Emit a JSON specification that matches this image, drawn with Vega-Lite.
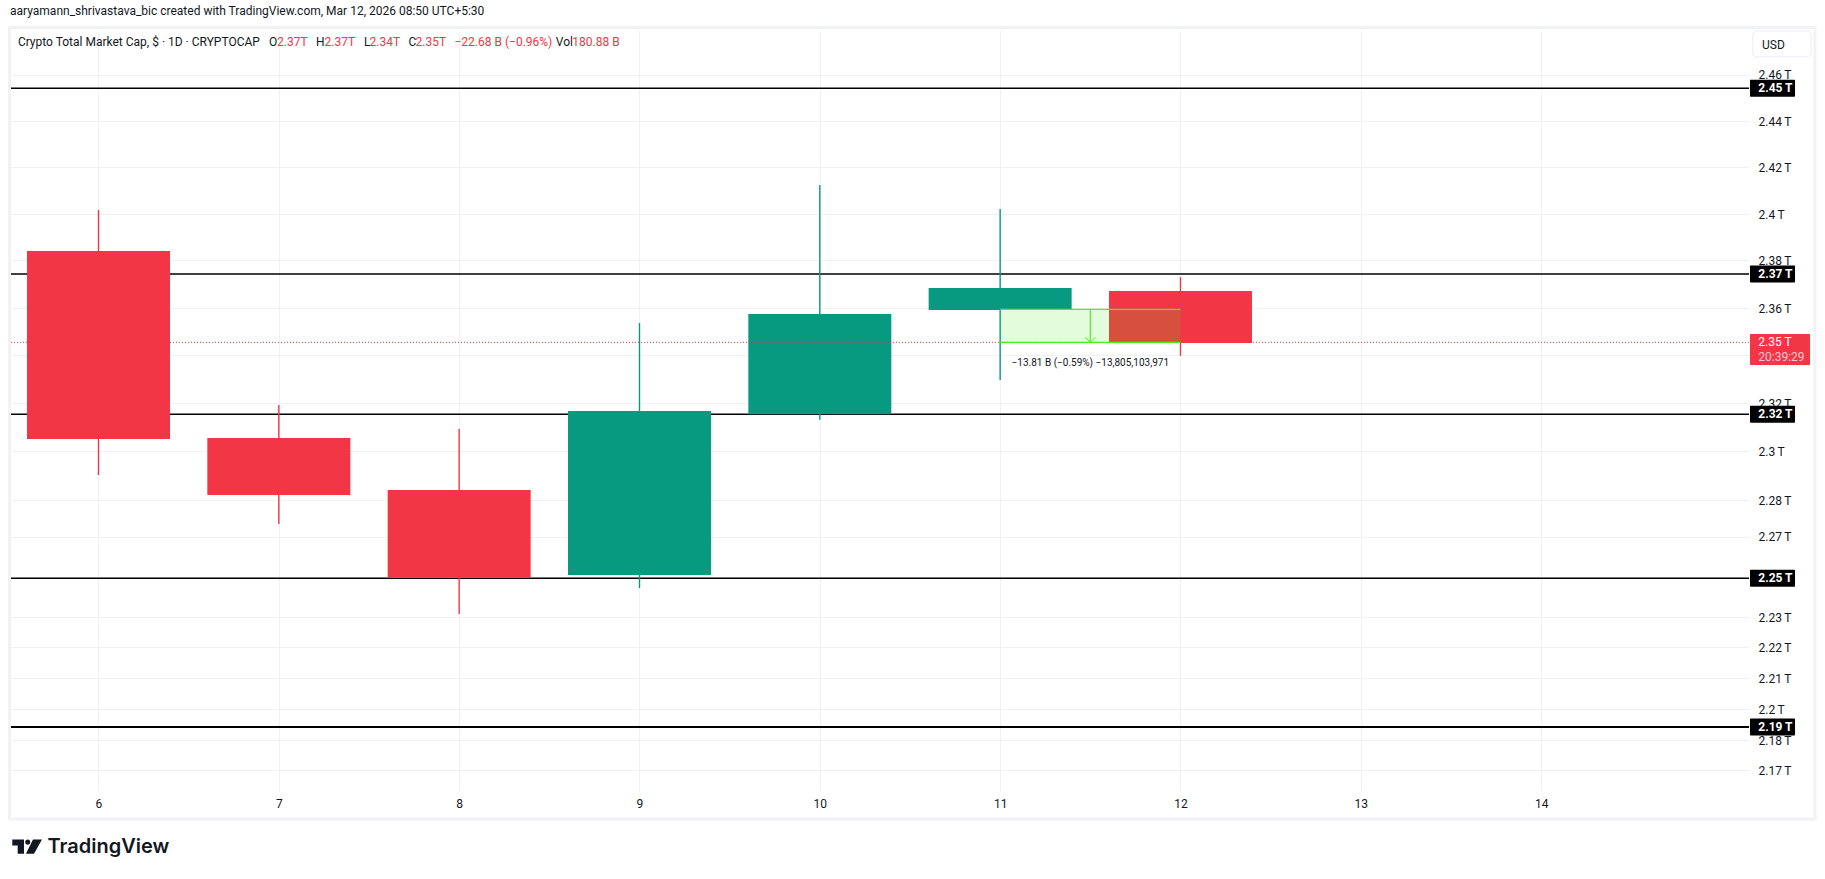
{
  "$schema": "https://vega.github.io/schema/vega-lite/v6.json",
  "width": 1738,
  "height": 761,
  "autosize": "none",
  "padding": {"left": 11, "top": 30, "right": 76, "bottom": 88},
  "background": "#ffffff",
  "config": {
    "view": {"stroke": null},
    "font": "Roboto",
    "text": {"font": "Roboto", "color": "#131722"}
  },
  "title": {
    "text": "aaryamann_shrivastava_bic created with TradingView.com, Mar 12, 2026 08:50 UTC+5:30",
    "anchor": "start",
    "frame": "group",
    "offset": 8,
    "dx": -1,
    "font": "Roboto",
    "fontSize": 12,
    "fontWeight": "normal",
    "color": "#131722"
  },
  "datasets": {
    "candles": [
      {"day": 6, "open": 2.38416, "high": 2.40172, "low": 2.29046, "close": 2.30528},
      {"day": 7, "open": 2.30569, "high": 2.31933, "low": 2.27044, "close": 2.28226},
      {"day": 8, "open": 2.28432, "high": 2.30939, "low": 2.23417, "close": 2.24902},
      {"day": 9, "open": 2.24983, "high": 2.35363, "low": 2.2446, "close": 2.31684},
      {"day": 10, "open": 2.31547, "high": 2.41249, "low": 2.31324, "close": 2.35742},
      {"day": 11, "open": 2.35911, "high": 2.40215, "low": 2.32973, "close": 2.36842},
      {"day": 12, "open": 2.36715, "high": 2.37309, "low": 2.33988, "close": 2.34521}
    ],
    "levels": [
      {"day": 5.5148, "end": 15.1527, "price": 2.4546, "width": 1.5},
      {"day": 5.5148, "end": 15.1527, "price": 2.3744, "width": 1.5},
      {"day": 5.5148, "end": 15.1527, "price": 2.3155, "width": 1.5},
      {"day": 5.5148, "end": 15.1527, "price": 2.2485, "width": 1.5},
      {"day": 5.5148, "end": 15.1527, "price": 2.1895, "width": 2}
    ],
    "tags": [
      {"day": 15.1583, "end": 15.4079, "text_day": 15.2043, "price": 2.4546, "label": "2.45 T"},
      {"day": 15.1583, "end": 15.4079, "text_day": 15.2043, "price": 2.3744, "label": "2.37 T"},
      {"day": 15.1583, "end": 15.4079, "text_day": 15.2043, "price": 2.3155, "label": "2.32 T"},
      {"day": 15.1583, "end": 15.4079, "text_day": 15.2043, "price": 2.2485, "label": "2.25 T"},
      {"day": 15.1583, "end": 15.4079, "text_day": 15.2043, "price": 2.1895, "label": "2.19 T"}
    ],
    "headline": [
      {"day": 5.553, "price": 2.4749, "label": "Crypto Total Market Cap, $ · 1D · CRYPTOCAP", "tone": "ink"},
      {"day": 6.9455, "price": 2.4749, "label": "O", "tone": "ink"},
      {"day": 6.9899, "price": 2.4749, "label": "2.37T", "tone": "down"},
      {"day": 7.2061, "price": 2.4749, "label": "H", "tone": "ink"},
      {"day": 7.2533, "price": 2.4749, "label": "2.37T", "tone": "down"},
      {"day": 7.4723, "price": 2.4749, "label": "L", "tone": "ink"},
      {"day": 7.5033, "price": 2.4749, "label": "2.34T", "tone": "down"},
      {"day": 7.7191, "price": 2.4749, "label": "C", "tone": "ink"},
      {"day": 7.7585, "price": 2.4749, "label": "2.35T", "tone": "down"},
      {"day": 7.9742, "price": 2.4749, "label": "−22.68 B (−0.96%)", "tone": "down"},
      {"day": 8.5359, "price": 2.4749, "label": "Vol", "tone": "ink"},
      {"day": 8.6274, "price": 2.4749, "label": "180.88 B", "tone": "down"},
      {"day": 15.2043, "price": 2.3455, "label": "2.35 T", "tone": "white"},
      {"day": 15.2043, "price": 2.33936, "label": "20:39:29", "tone": "timer"}
    ]
  },
  "encoding": {
    "x": {
      "field": "day",
      "type": "quantitative",
      "scale": {"domain": [5.5148, 15.1527], "nice": false, "zero": false, "padding": 0},
      "axis": {
        "title": null,
        "values": [6, 7, 8, 9, 10, 11, 12, 13, 14],
        "format": "d",
        "grid": true,
        "gridColor": "#f0f1f4",
        "gridWidth": 1,
        "domain": false,
        "ticks": false,
        "labelPadding": 7,
        "labelFontSize": 12,
        "labelColor": "#131722",
        "labelOverlap": false
      }
    },
    "y": {
      "field": "price",
      "type": "quantitative",
      "scale": {"type": "log", "domain": [2.16452, 2.48036], "nice": false, "zero": false, "padding": 0},
      "axis": {
        "title": null,
        "orient": "right",
        "values": [2.4605, 2.4402, 2.4201, 2.4, 2.3803, 2.3598, 2.34, 2.32, 2.3003, 2.2802, 2.2652, 2.249, 2.2328, 2.2209, 2.2086, 2.1964, 2.1843, 2.1725],
        "labelExpr": "format(datum.value, '.2~f') + '\u2009T'",
        "grid": true,
        "gridColor": "#f0f1f4",
        "gridWidth": 1,
        "domain": false,
        "ticks": false,
        "labelPadding": 9,
        "labelFontSize": 12,
        "labelColor": "#131722",
        "labelOverlap": false
      }
    }
  },
  "layer": [
    {
      "data": {"values": [{"day": 5.5065, "end": 15.5187, "price": 2.48146, "floor": 2.15369}]},
      "mark": {"type": "rect", "filled": false, "stroke": "#f1f2f5", "strokeWidth": 3},
      "encoding": {
        "x2": {"field": "end"},
        "y2": {"field": "floor"}
      }
    },
    {
      "data": {"name": "levels"},
      "mark": {"type": "rule", "color": "#000000"},
      "encoding": {
        "x2": {"field": "end"},
        "strokeWidth": {"field": "width", "type": "quantitative", "scale": null}
      }
    },
    {
      "data": {"name": "candles"},
      "mark": {"type": "rule", "strokeWidth": 1.4},
      "encoding": {
        "y": {"field": "high", "type": "quantitative"},
        "y2": {"field": "low"},
        "color": {"condition": {"test": "datum.close >= datum.open", "value": "#089981"}, "value": "#f23645"}
      }
    },
    {
      "data": {"name": "candles"},
      "mark": {"type": "bar", "orient": "vertical", "size": 143},
      "encoding": {
        "y": {"field": "open", "type": "quantitative"},
        "y2": {"field": "close"},
        "color": {"condition": {"test": "datum.close >= datum.open", "value": "#089981"}, "value": "#f23645"}
      }
    },
    {
      "data": {"values": [{"day": 5.5148, "end": 15.1527, "price": 2.3455}]},
      "mark": {"type": "rule", "color": "#f23645", "strokeWidth": 1, "strokeDash": [1, 2]},
      "encoding": {"x2": {"field": "end"}}
    },
    {
      "data": {"values": [{"day": 11, "end": 12, "price": 2.35941, "floor": 2.34551}]},
      "mark": {"type": "rect", "color": "#3eeb16", "opacity": 0.15},
      "encoding": {
        "x2": {"field": "end"},
        "y2": {"field": "floor"}
      }
    },
    {
      "data": {"values": [
        {"day": 11, "end": 12, "price": 2.35941},
        {"day": 11, "end": 12, "price": 2.34551}
      ]},
      "mark": {"type": "rule", "color": "#4cf01f", "strokeWidth": 1.3},
      "encoding": {"x2": {"field": "end"}}
    },
    {
      "data": {"values": [{"day": 11.5, "price": 2.35941, "floor": 2.34551}]},
      "mark": {"type": "rule", "color": "#4cf01f", "strokeWidth": 1.2},
      "encoding": {"y2": {"field": "floor"}}
    },
    {
      "data": {"values": [{"day": 11.5, "price": 2.34551}]},
      "mark": {"type": "point", "shape": "M-1,-1L0,0L1,-1", "size": 100, "filled": false, "stroke": "#4cf01f", "strokeWidth": 1, "opacity": 1}
    },
    {
      "data": {"values": [{"day": 11.5, "price": 2.33695, "label": "−13.81 B (−0.59%) −13,805,103,971"}]},
      "mark": {"type": "text", "align": "center", "baseline": "middle", "fontSize": 10, "color": "#131722"},
      "encoding": {"text": {"field": "label"}}
    },
    {
      "data": {"name": "tags"},
      "mark": {"type": "bar", "orient": "horizontal", "size": 17, "color": "#000000", "cornerRadius": 1},
      "encoding": {"x2": {"field": "end"}}
    },
    {
      "data": {"name": "tags"},
      "mark": {"type": "text", "align": "left", "baseline": "middle", "fontSize": 12, "fontWeight": "bold", "color": "#ffffff"},
      "encoding": {
        "x": {"field": "text_day", "type": "quantitative"},
        "text": {"field": "label"}
      }
    },
    {
      "data": {"values": [{"day": 15.1583, "end": 15.4911, "price": 2.349, "floor": 2.336}]},
      "mark": {"type": "rect", "color": "#f23645", "cornerRadius": 1},
      "encoding": {
        "x2": {"field": "end"},
        "y2": {"field": "floor"}
      }
    },
    {
      "data": {"values": [{"day": 15.1734, "end": 15.4966, "price": 2.47993, "floor": 2.46854}]},
      "mark": {"type": "rect", "filled": false, "stroke": "#f0f3fa", "strokeWidth": 1.5, "cornerRadius": 4},
      "encoding": {
        "x2": {"field": "end"},
        "y2": {"field": "floor"}
      }
    },
    {
      "data": {"values": [{"day": 15.2248, "price": 2.4739, "label": "USD"}]},
      "mark": {"type": "text", "align": "left", "baseline": "middle", "fontSize": 12, "color": "#131722"},
      "encoding": {"text": {"field": "label"}}
    },
    {
      "data": {"name": "headline"},
      "mark": {"type": "text", "align": "left", "baseline": "middle", "fontSize": 12},
      "encoding": {
        "text": {"field": "label"},
        "color": {"field": "tone", "type": "nominal", "legend": null, "scale": {"domain": ["ink", "down", "white", "timer"], "range": ["#131722", "#f23645", "#ffffff", "#fbc5ca"]}}
      }
    },
    {
      "data": {"values": [{"day": 5.6035, "price": 2.14306}]},
      "mark": {
        "type": "point",
        "shape": "M-.98,-.47H-.2V.47H-.62V-.07H-.98ZM-.12,-.3A.17,.17 0 1 0 .22,-.3A.17,.17 0 1 0 -.12,-.3ZM.4,-.47H1L.47,.47H-.07Z",
        "size": 900,
        "filled": true,
        "color": "#131722",
        "opacity": 1
      }
    },
    {
      "data": {"values": [{"day": 5.7172, "price": 2.14306, "label": "TradingView"}]},
      "mark": {"type": "text", "align": "left", "baseline": "middle", "font": "Inter", "fontSize": 20, "fontWeight": 600, "color": "#131722"},
      "encoding": {"text": {"field": "label"}}
    }
  ]
}
